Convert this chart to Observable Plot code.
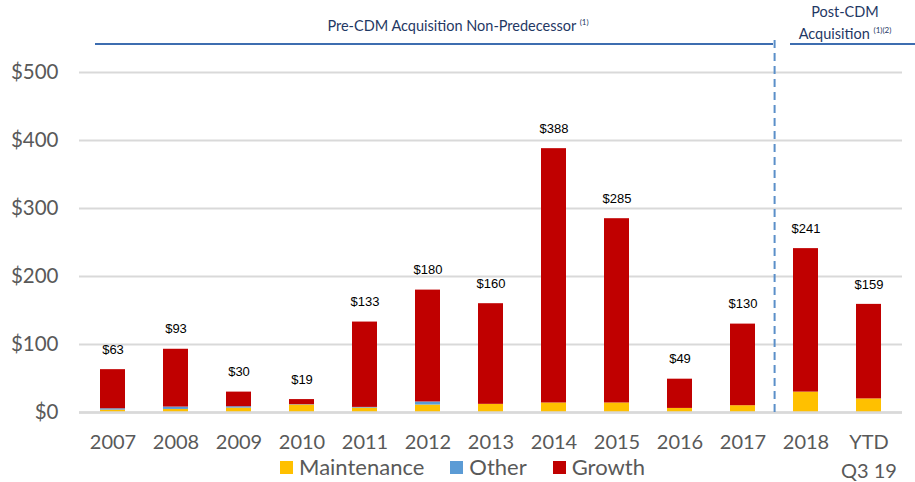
<!DOCTYPE html>
<html>
<head>
<meta charset="utf-8">
<script src="https://cdn.jsdelivr.net/npm/d3@7"></script>
<script src="https://cdn.jsdelivr.net/npm/@observablehq/plot@0.6"></script>
<style>
  body { margin: 0; background: #fff; }
  #wrap { position: relative; width: 915px; height: 482px; font-family: Lato, "Open Sans", sans-serif; }
  #chart { position: absolute; left: 0; top: 0; }
  .hdr { position: absolute; color: #1f3864; font-size: 14.5px; white-space: nowrap; text-align: center; }
  .hdr sup { font-size: 8px; vertical-align: 6px; }
  .hline { position: absolute; height: 2px; background: #3d6db0; }
  #legend { position: absolute; top: 458px; left: 0; width: 915px; display: flex; justify-content: center; gap: 26px; color: #595959; font-size: 22px; line-height: 18px; padding-left: 10px; box-sizing: border-box; }
  #legend span.item { display: flex; align-items: center; }
  #legend i { display: inline-block; width: 13px; height: 13px; margin-right: 6px; }
</style>
</head>
<body>
<div id="wrap">
  <div id="chart"></div>
  <div class="hdr" style="left:238px; width:440px; top:17px;">Pre-CDM Acquisition Non-Predecessor <sup>(1)</sup></div>
  <div class="hline" style="left:95px; width:678px; top:43px;"></div>
  <div class="hdr" style="left:785px; width:120px; top:2px; line-height:19px;">Post-CDM<br>Acquisition <sup>(1)(2)</sup></div>
  <div class="hline" style="left:790px; width:125px; top:43px;"></div>
  <div id="legend">
    <span class="item"><i style="background:#ffc000"></i>Maintenance</span>
    <span class="item"><i style="background:#5b9bd5"></i>Other</span>
    <span class="item"><i style="background:#c00000"></i>Growth</span>
  </div>
</div>
<script>
const years = ["2007","2008","2009","2010","2011","2012","2013","2014","2015","2016","2017","2018","YTD"];
const totals = [63, 93, 30, 19, 133, 180, 160, 388, 285, 49, 130, 241, 159];
const maintenance = [3.5, 4.5, 6.5, 11, 6.5, 11, 12, 14, 14, 6, 10, 30, 20];
const other = [2, 3.5, 2, 0.5, 1, 4.5, 0, 0, 0, 0, 0, 0, 0];
const seriesNames = ["Maintenance", "Other", "Growth"];
const seriesColors = ["#ffc000", "#5b9bd5", "#c00000"];
const yTicks = [0, 100, 200, 300, 400, 500];

const rows = [];
years.forEach((y, i) => {
  rows.push({year: y, series: "Maintenance", value: maintenance[i]});
  rows.push({year: y, series: "Other", value: other[i]});
  rows.push({year: y, series: "Growth", value: totals[i] - maintenance[i] - other[i]});
});
const labels = years.map((y, i) => ({year: y, total: totals[i]}));

const chart = Plot.plot({
  width: 915,
  height: 482,
  marginTop: 72,
  marginBottom: 70,
  marginLeft: 79,
  marginRight: 13,
  style: {fontFamily: "Lato, sans-serif", background: "transparent", overflow: "visible"},
  x: {domain: years, paddingInner: 0.6, paddingOuter: 0.3, label: null},
  y: {domain: [0, 500], label: null},
  color: {domain: seriesNames, range: seriesColors},
  marks: [
    Plot.ruleY(yTicks, {stroke: "#d9d9d9", strokeWidth: 2.2}),
    Plot.barY(rows, Plot.stackY({x: "year", y: "value", fill: "series", order: seriesNames})),
    Plot.ruleY([0], {stroke: "#d9d9d9", strokeWidth: 2.5}),
    Plot.ruleX(["2017"], {dx: 31.6, stroke: "#5b8fc9", strokeWidth: 2, strokeDasharray: "8,5", insetTop: -32}),
    Plot.text(labels, {x: "year", y: "total", text: d => "$" + d.total, dy: -20, fontSize: 13, fontFamily: "Liberation Sans, Arial, sans-serif", fill: "#000"}),
    Plot.axisY({ticks: yTicks, tickSize: 0, tickPadding: 21, tickFormat: d => "$" + d, fontSize: 20.5, color: "#595959", label: null}),
    Plot.axisX({tickSize: 0, tickPadding: 16, fontSize: 20, color: "#595959", lineHeight: 1.45, label: null,
      tickFormat: d => d === "YTD" ? "YTD\nQ3 19" : d})
  ]
});
document.getElementById("chart").appendChild(chart);
</script>
</body>
</html>
